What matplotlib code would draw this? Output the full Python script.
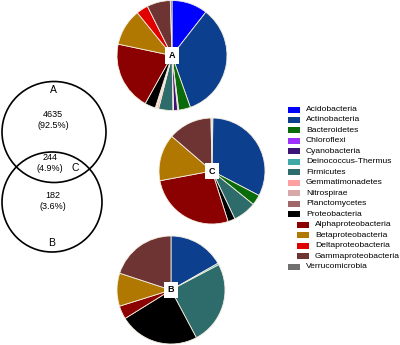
import numpy as np
import matplotlib
matplotlib.use("Agg")
import matplotlib.pyplot as plt
from matplotlib.patches import Ellipse, Rectangle

plt.rcParams['font.family'] = ['Liberation Sans', 'DejaVu Sans']

# %%
# data
taxa = ['Acidobacteria', 'Actinobacteria', 'Bacteroidetes', 'Chloroflexi',
        'Cyanobacteria', 'Deinococcus-Thermus', 'Firmicutes', 'Gemmatimonadetes',
        'Nitrospirae', 'Planctomycetes', 'Proteobacteria',
        'Alphaproteobacteria', 'Betaproteobacteria', 'Deltaproteobacteria',
        'Gammaproteobacteria', 'Verrucomicrobia']
sub_taxa = ['Alphaproteobacteria', 'Betaproteobacteria', 'Deltaproteobacteria',
            'Gammaproteobacteria']
colors = ['#0000ff', '#0d3f8f', '#0a6b0a', '#9b30ff', '#3c1478', '#40a8a8',
          '#2e6b6b', '#ffa0a0', '#d8a8a8', '#a06868', '#000000',
          '#8b0000', '#b07800', '#e00000', '#6e3434', '#707070']

# % of OTUs per group
share_A = [10.6, 34.2, 3.5, 0.3, 1.2, 0.2, 4.2, 0.5, 0.3, 0.2, 3.2, 20.3, 10.9, 3.5, 6.9, 0.5]
share_C = [0.3, 32.4, 3.2, 0, 0, 0, 7.1, 0, 0, 0, 2.2, 27.0, 14.3, 0, 13.4, 0.3]
share_B = [0, 16.8, 0, 0, 0, 0.5, 25.0, 0, 0, 0, 24.0, 4.0, 9.9, 0, 20.0, 0]

venn_counts = {'A': 4635, 'C': 244, 'B': 182}
venn_pct = {'A': 92.5, 'C': 4.9, 'B': 3.6}

# %%
W, H = 400, 345
fig = plt.figure(figsize=(4, 3.45), dpi=100)
ax = fig.add_axes([0, 0, 1, 1])


def Y(y):
    # pixel row -> data y (y axis goes up)
    return H - y


def draw_pie(vals, center, r, label):
    v = np.array(vals, dtype=float)
    keep = v > 0
    ax.pie(v[keep], colors=[c for c, k in zip(colors, keep) if k],
           startangle=90, counterclock=False, center=center, radius=r,
           wedgeprops=dict(edgecolor='#f4eee0', linewidth=0.6))
    ax.text(center[0], center[1], label, ha='center', va='center', fontsize=6.5,
            fontweight='bold',
            bbox=dict(boxstyle='square,pad=0.4', fc='white', ec='none'))


draw_pie(share_A, (172, Y(55.5)), 55, 'A')
draw_pie(share_C, (212, Y(171)), 53, 'C')
draw_pie(share_B, (171, Y(290)), 54, 'B')

# venn
ax.add_patch(Ellipse((54, Y(132)), 104, 101, fill=False, ec='black', lw=1.2))
ax.add_patch(Ellipse((52, Y(202)), 100, 100, fill=False, ec='black', lw=1.2))
ax.text(53, Y(90), 'A', ha='center', va='center', fontsize=7.5)
ax.text(53, Y(120), f"{venn_counts['A']}\n({venn_pct['A']}%)", ha='center',
        va='center', fontsize=6.5, linespacing=1.25)
ax.text(50, Y(163), f"{venn_counts['C']}\n({venn_pct['C']}%)", ha='center',
        va='center', fontsize=6.5, linespacing=1.25)
ax.text(75, Y(168), 'C', ha='center', va='center', fontsize=7.5)
ax.text(53, Y(201), f"{venn_counts['B']}\n({venn_pct['B']}%)", ha='center',
        va='center', fontsize=6.5, linespacing=1.25)
ax.text(52, Y(243), 'B', ha='center', va='center', fontsize=7.5)

# legend
for i, (name, c) in enumerate(zip(taxa, colors)):
    yy = Y(109.5 + i * 10.48)
    x0 = 297 if name in sub_taxa else 288
    ax.add_patch(Rectangle((x0, yy - 3), 12, 6, fc=c, ec='none'))
    ax.text(x0 + 18, yy, name, ha='left', va='center', fontsize=6.1)

ax.set_xlim(0, W)
ax.set_ylim(0, H)
ax.set_aspect('auto')
ax.axis('off')

fig.savefig('out.png', dpi=100)
